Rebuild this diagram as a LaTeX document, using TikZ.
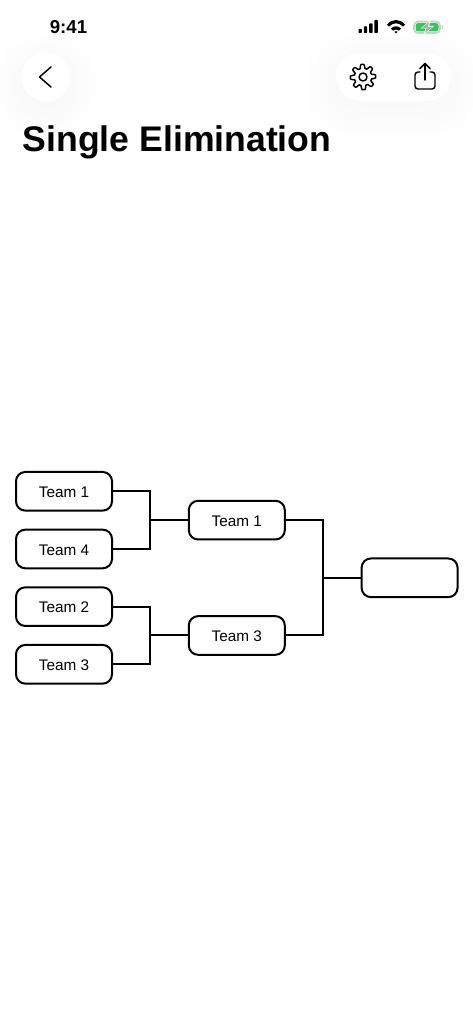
\documentclass[tikz,border=0pt]{standalone}
\usepackage{fontspec}
\setmainfont{Liberation Sans}
\usetikzlibrary{positioning, calc}
\definecolor{batterygreen}{HTML}{34C759}
\definecolor{batteryedge}{HTML}{B9D8BE}
\definecolor{boltgrey}{HTML}{9FB5A4}

\begin{document}
\begin{tikzpicture}[x=0.75pt, y=-0.75pt,
    teambox/.style={draw, rounded corners=7pt, line width=1.5pt, minimum width=72pt, minimum height=29pt,
      inner sep=0pt, outer sep=0pt, text height=9.5pt, font=\fontsize{11.5}{14}\selectfont, align=center},
    link/.style={line width=1.5pt},
    iconline/.style={line width=1.1pt, line cap=round, line join=round},
    softshade/.style={fill=black, opacity=0.004, draw=none},
    node distance=14.25pt and 57.6pt]
  \useasboundingbox (0,0) rectangle (473,1024);
  \fill[white] (0,0) rectangle (473,1024);

  \foreach \r in {6,12,...,36} {
    \fill[softshade] (46,85) circle ({18+\r});
    \fill[softshade, rounded corners=30pt] ({342-\r},{67-\r}) rectangle ({445+\r},{103+\r});
  }
  \fill[white] (46,77) circle (24.5);
  \fill[white, rounded corners=18pt] (336,53) rectangle (451,101);

  \node[anchor=center, font=\fontsize{14}{16}\selectfont] (clock) at (68.5,27.5) {\textbf{9:41}};
  \foreach \x/\h in {358.5/4, 363.8/6.5, 369.1/9.5, 374.4/13}
    \fill[rounded corners=0.5pt] (\x,33) rectangle ({\x+3.4},{33-\h});
  \begin{scope}[shift={(396,33)}]
    \fill (-9,-8.5) .. controls (-4,-14.5) and (4,-14.5) .. (9,-8.5) -- (7,-6.4)
      .. controls (3,-10.8) and (-3,-10.8) .. (-7,-6.4) -- cycle;
    \fill (-5,-4.5) .. controls (-2.5,-7.5) and (2.5,-7.5) .. (5,-4.5) -- (3,-2.4)
      .. controls (1.5,-3.9) and (-1.5,-3.9) .. (-3,-2.4) -- cycle;
    \fill (-1.6,-1.2) .. controls (-0.8,-2) and (0.8,-2) .. (1.6,-1.2) -- (0,0.4) -- cycle;
  \end{scope}
  \draw[batteryedge, line width=1.2pt, rounded corners=3pt] (414,21.5) rectangle (440,33);
  \fill[batterygreen, rounded corners=2pt] (415.5,23) rectangle (438.5,31.5);
  \fill[batteryedge] (441.5,25) rectangle (443,29.5);
  \fill[white] (431,19.5) -- (420.5,28.5) -- (425.5,28.5) -- (423.5,35) -- (434,26) -- (429,26) -- cycle;
  \fill[boltgrey] (429.5,21.5) -- (422,27.8) -- (426.8,27.8) -- (425,33) -- (432.5,26.7) -- (427.7,26.7) -- cycle;

  \draw[iconline] (51,67) -- (39.5,77) -- (51,87);
  \draw[iconline, shift={(363,77)}] plot[domain=0:360, samples=145, smooth]
    (\x:{10.7+2.0*max(-1,min(1,1.7*cos(8*\x+22.5)))}) -- cycle;
  \draw[iconline] (363,77) circle (4);
  \draw[iconline] (420,72) -- (418,72) arc[start angle=-90, end angle=-180, radius=3] -- (415,86)
    arc[start angle=180, end angle=90, radius=3] -- (432,89)
    arc[start angle=90, end angle=0, radius=3] -- (435,75)
    arc[start angle=0, end angle=-90, radius=3] -- (430,72);
  \draw[iconline] (425,80) -- (425,64);
  \draw[iconline] (420,68.5) -- (425,63.5) -- (430,68.5);

  \node[anchor=base west, inner sep=0pt, font=\fontsize{26.7}{30}\selectfont] (title) at (22.5,151) {\textbf{Single Elimination}};

  \node[teambox] (TA) at (64,491.3) {Team 1};
  \node[teambox, below=of TA] (TD) {Team 4};
  \node[teambox, below=of TD] (TB) {Team 2};
  \node[teambox, below=of TB] (TC) {Team 3};
  \node[teambox, right=of $(TA.east)!0.5!(TD.east)$] (SA) {Team 1};
  \node[teambox, right=of $(TB.east)!0.5!(TC.east)$] (SB) {Team 3};
  \node[teambox, right=of $(SA.east)!0.5!(SB.east)$] (FN) {};

  \coordinate[left=28.8pt of SA.west] (JA);
  \coordinate[left=28.8pt of SB.west] (JB);
  \coordinate[left=28.8pt of FN.west] (JF);

  \draw[link] (TA) -| (JA) |- (TD);
  \draw[link] (JA) -- (SA);
  \draw[link] (TB) -| (JB) |- (TC);
  \draw[link] (JB) -- (SB);
  \draw[link] (SA) -| (JF) |- (SB);
  \draw[link] (JF) -- (FN);
\end{tikzpicture}
\end{document}
